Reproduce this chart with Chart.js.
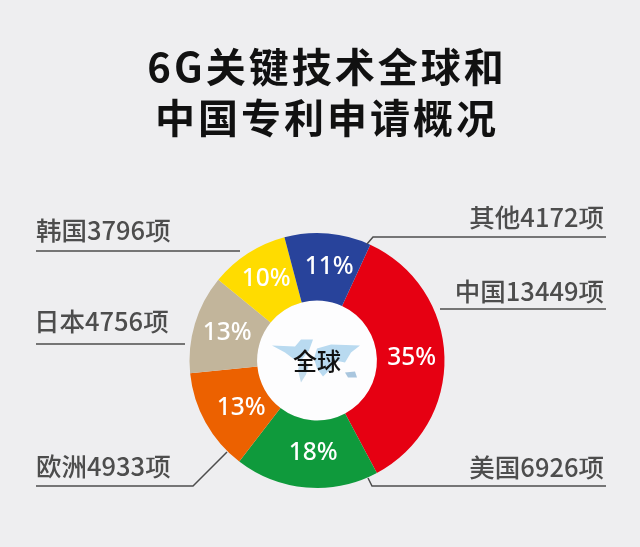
<!DOCTYPE html>
<html>
<head>
<meta charset="utf-8">
<script src="https://cdn.jsdelivr.net/npm/chart.js@4"></script>
<style>
    html, body { margin: 0; padding: 0; background: #eeeef0; }
    #wrap { width: 640px; height: 547px; }
</style>
</head>
<body>
<div id="wrap"><canvas id="patentChart" width="640" height="547"></canvas></div>
<script>
// data
const categories = ['中国', '美国', '欧洲', '日本', '韩国', '其他'];
const patents = [13449, 6926, 4933, 4756, 3796, 4172];
const shares = ['35%', '18%', '13%', '13%', '10%', '11%'];
const colors = ['#e60012', '#0f9a3c', '#ec6100', '#c2b59b', '#ffdc00', '#28439b'];
const titleLines = ['6G关键技术全球和', '中国专利申请概况'];
const centerLabel = '全球';

const FONT = '"Noto Sans CJK SC", "Noto Sans", sans-serif';

// small shifts of the percentages away from the slice centres
const shareNudge = [[1, 0], [4, -1], [6, 2], [0, 0], [0, -3], [4, 0]];

// where each outside label sits and how its leader line runs
const callouts = [
    { i: 0, x: 604, y: 291, align: 'right', line: [[440, 309], [606, 309]] },
    { i: 1, x: 604, y: 467, align: 'right', line: [[368, 478], [372, 486], [606, 486]] },
    { i: 2, x: 36, y: 466, align: 'left', line: [[36, 486], [193, 486], [227, 452]] },
    { i: 3, x: 34, y: 321, align: 'left', line: [[36, 344], [185, 344]] },
    { i: 4, x: 36, y: 230, align: 'left', line: [[36, 251], [240, 251]] },
    { i: 5, x: 604, y: 217, align: 'right', line: [[367, 244], [373, 237], [606, 237]] }
];

function drawMap(ctx, x, y) {
    // rough world map behind the centre label
    const blobs = [
        ['#b9daf0', [[-45, -15], [-22, -14], [-16, -21], [-4, -21], [-8, -10], [-16, 0], [-24, -2], [-32, -8]]],
        ['#c4dcec', [[-17, 0], [-8, 4], [-11, 14], [-16, 22], [-19, 10]]],
        ['#b9daf0', [[0, -12], [14, -16], [43, -15], [34, -8], [28, 2], [18, 0], [14, 8], [6, 16], [0, 8], [-3, -2]]],
        ['#a9c6de', [[28, 12], [38, 11], [40, 17], [31, 17]]]
    ];
    blobs.forEach(([fill, b]) => {
        ctx.fillStyle = fill;
        ctx.beginPath();
        b.forEach((p, n) => n ? ctx.lineTo(x + p[0], y + p[1]) : ctx.moveTo(x + p[0], y + p[1]));
        ctx.closePath();
        ctx.fill();
    });
}

const overlay = {
    id: 'overlay',
    beforeDatasetsDraw(chart) {
        const ctx = chart.ctx;
        const arc = chart.getDatasetMeta(0).data[0];
        ctx.save();
        ctx.fillStyle = '#fdfdfe';
        ctx.beginPath();
        ctx.arc(arc.x, arc.y, arc.innerRadius, 0, Math.PI * 2);
        ctx.fill();
        drawMap(ctx, arc.x, arc.y);
        ctx.restore();
    },
    afterDatasetsDraw(chart) {
        const ctx = chart.ctx;
        const arcs = chart.getDatasetMeta(0).data;
        ctx.save();
        ctx.textBaseline = 'middle';

        // title
        ctx.textAlign = 'center';
        ctx.fillStyle = '#111';
        ctx.font = 'bold 40px ' + FONT;
        ctx.letterSpacing = '3px';
        ctx.fillText(titleLines[0], 327, 67);
        ctx.fillText(titleLines[1], 327, 118);
        ctx.letterSpacing = '0px';

        // percentages on the slices
        ctx.fillStyle = '#fff';
        ctx.font = '500 24.5px "Noto Sans", sans-serif';
        arcs.forEach((a, i) => {
            const p = a.getCenterPoint();
            ctx.fillText(shares[i], p.x + shareNudge[i][0], p.y + shareNudge[i][1]);
        });

        // centre label
        ctx.fillStyle = '#111';
        ctx.font = '500 24px ' + FONT;
        ctx.fillText(centerLabel, arcs[0].x, arcs[0].y);

        // outside labels and leader lines
        ctx.strokeStyle = '#4d4d4d';
        ctx.lineWidth = 1.5;
        callouts.forEach(c => {
            ctx.fillStyle = '#4d4d4d';
            ctx.font = '500 25.5px ' + FONT;
            ctx.textAlign = c.align;
            ctx.fillText(categories[c.i] + patents[c.i] + '项', c.x, c.y);
            ctx.beginPath();
            c.line.forEach((p, n) => n ? ctx.lineTo(p[0], p[1]) : ctx.moveTo(p[0], p[1]));
            ctx.stroke();
        });
        ctx.restore();
    }
};

new Chart(document.getElementById('patentChart').getContext('2d'), {
    type: 'doughnut',
    data: {
        labels: categories,
        datasets: [{
            data: patents,
            backgroundColor: colors,
            borderWidth: 0
        }]
    },
    options: {
        responsive: false,
        animation: false,
        devicePixelRatio: 1,
        cutout: '47%',
        rotation: 24.7,
        layout: { padding: { left: 189.5, right: 195.5, top: 233, bottom: 59 } },
        plugins: {
            legend: { display: false },
            tooltip: { enabled: false }
        }
    },
    plugins: [overlay]
});
</script>
</body>
</html>
